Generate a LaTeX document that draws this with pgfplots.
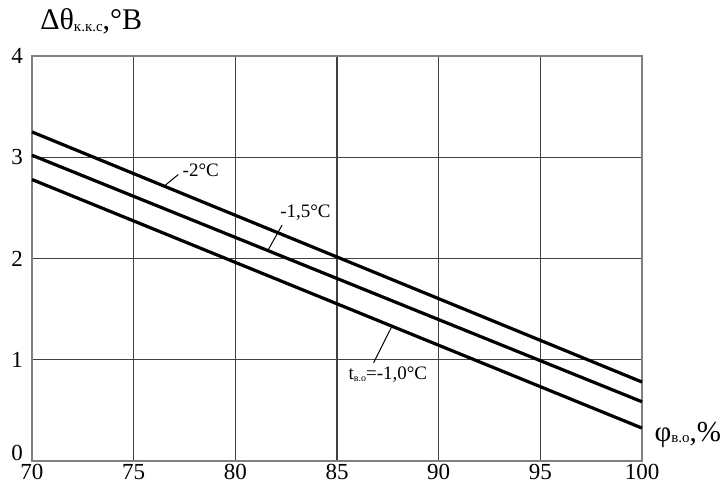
\documentclass[border=0pt]{standalone}
\usepackage{pgfplots}
\pgfplotsset{compat=1.18}
\usepackage{fontspec}
\setmainfont{Liberation Serif}
\begin{document}
\begin{tikzpicture}
\begin{axis}[
  at={(0,0)}, anchor=south west,
  scale only axis,
  width=305pt, height=202.5pt,
  xmin=70, xmax=100, ymin=0, ymax=4,
  xtick={70,75,...,100}, ytick={1,2,3,4},
  extra y ticks={0},
  extra tick style={grid=none, yticklabel style={yshift=4pt}},
  major tick length=0pt,
  grid=major,
  major grid style={black!75, line width=0.6pt},
  axis line style={black!50, line width=0.8pt},
  tick label style={font=\fontsize{11.5}{13}\selectfont},
  /pgf/number format/assume math mode=true,
  xticklabel style={inner sep=0pt, yshift=-1.5pt},
  yticklabel style={xshift=-1pt},
  clip=false,
]
\addplot[black, line width=1.6pt] coordinates {(70,3.25) (100,0.78)};
\addplot[black, line width=1.6pt] coordinates {(70,3.02) (100,0.585)};
\addplot[black, line width=1.6pt] coordinates {(70,2.78) (100,0.325)};
\draw[black, line width=0.5pt] (axis cs:76.5,2.715) -- (axis cs:77.2,2.83);
\draw[black, line width=0.5pt] (axis cs:81.6,2.08) -- (axis cs:82.3,2.33);
\draw[black, line width=0.5pt] (axis cs:87.7,1.33) -- (axis cs:86.8,0.97);
\node[font=\fontsize{9.5}{11}\selectfont, inner sep=0pt] at (axis cs:78.3,2.87) {-2°C};
\node[font=\fontsize{9.5}{11}\selectfont, inner sep=0pt] at (axis cs:83.45,2.45) {-1,5°C};
\node[font=\fontsize{9.5}{11}\selectfont, inner sep=0pt] at (axis cs:87.5,0.85) {t\raisebox{-0.2ex}{\fontsize{5}{6}\selectfont в.о}=-1,0°C};
\node[font=\fontsize{15}{17}\selectfont, inner sep=0pt, anchor=west] at (rel axis cs:0.013,1.085) {Δθ\raisebox{-0.1ex}{\fontsize{7.5}{8}\selectfont к.к.с},°B};
\node[font=\fontsize{14.5}{16}\selectfont, inner sep=0pt, anchor=west] at (rel axis cs:1.02,0.064) {φ\raisebox{-0.1ex}{\fontsize{7.5}{8}\selectfont в.о},\%};
\end{axis}
\pgfresetboundingbox
\path (-16pt,-12.5pt) rectangle (348pt,230.5pt);
\end{tikzpicture}
\end{document}
